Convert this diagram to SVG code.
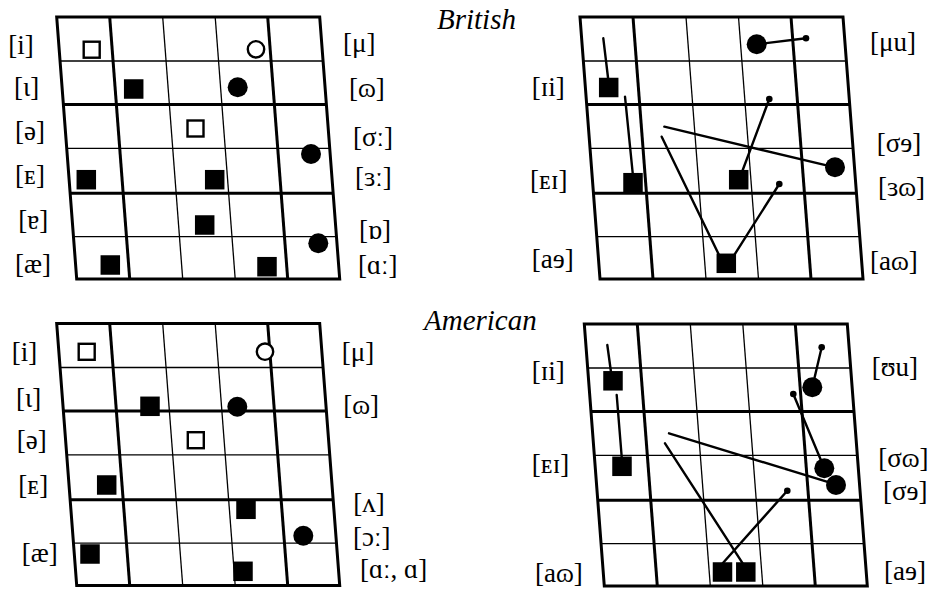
<svg xmlns="http://www.w3.org/2000/svg" width="933" height="592" viewBox="0 0 933 592">
  <style>
    .lbl { font-family: "Liberation Serif", "DejaVu Serif", serif; font-size: 27px; fill: #000; }
    .ttl { font-family: "Liberation Serif", "DejaVu Serif", serif; font-size: 29px; font-style: italic; fill: #000; }
    .thick { stroke: #000; stroke-width: 3; fill: none; }
    .thin { stroke: #000; stroke-width: 1.3; fill: none; }
    .sq { fill: #000; }
    .osq { fill: #fff; stroke: #000; stroke-width: 2.4; }
    .dot { fill: #000; }
    .ocirc { fill: #fff; stroke: #000; stroke-width: 2.4; }
    .trk { stroke: #000; stroke-width: 2.4; fill: none; stroke-linecap: round; }
  </style>
  <defs>
    <!-- skewed 5 x 6 vowel chart grid -->
    <g id="grid">
      <line class="thin" x1="3.4" y1="44" x2="266.4" y2="44"/>
      <line class="thick" x1="6.7" y1="87.5" x2="269.7" y2="87.5"/>
      <line class="thin" x1="10" y1="131.3" x2="273" y2="131.3"/>
      <line class="thick" x1="13.5" y1="176.3" x2="276.5" y2="176.3"/>
      <line class="thin" x1="16.8" y1="219.7" x2="279.8" y2="219.7"/>
      <line class="thick" x1="53" y1="0" x2="73" y2="262"/>
      <line class="thin" x1="106" y1="0" x2="126" y2="262"/>
      <line class="thin" x1="158.5" y1="0" x2="178.5" y2="262"/>
      <line class="thick" x1="211" y1="0" x2="231" y2="262"/>
      <polygon class="thick" points="0,0 263,0 283,262 20,262"/>
    </g>
    <rect id="fsq" class="sq" x="-9.75" y="-9.75" width="19.5" height="19.5"/>
    <rect id="osq" class="osq" x="-8" y="-8" width="16" height="16"/>
  </defs>

  <rect width="933" height="592" fill="#fff"/>

  <text class="ttl" x="437" y="29">British</text>
  <text class="ttl" x="424" y="330">American</text>

  <!-- British monophthongs -->
  <g id="british-mono">
    <use href="#grid" x="56.7" y="17"/>
    <use href="#osq" x="91.7" y="49.7"/>
    <circle class="ocirc" cx="256" cy="49.3" r="8.2"/>
    <use href="#fsq" x="133.7" y="89"/>
    <circle class="dot" cx="237.7" cy="87.3" r="10"/>
    <use href="#osq" x="195.5" y="128.5"/>
    <circle class="dot" cx="311" cy="154" r="10"/>
    <use href="#fsq" x="86.3" y="179.7"/>
    <use href="#fsq" x="214.7" y="179.7"/>
    <use href="#fsq" x="204.7" y="225"/>
    <circle class="dot" cx="318.3" cy="243.3" r="10"/>
    <use href="#fsq" x="110.3" y="265"/>
    <use href="#fsq" x="267" y="266.7"/>
    <text class="lbl" x="8.3" y="54">[i]</text>
    <text class="lbl" x="14" y="95.5">[ι]</text>
    <text class="lbl" x="15" y="139.5">[ə]</text>
    <text class="lbl" x="15" y="183.5">[ᴇ]</text>
    <text class="lbl" x="18.3" y="228.5">[ɐ]</text>
    <text class="lbl" x="15" y="272.5">[æ]</text>
    <text class="lbl" x="343" y="52">[μ]</text>
    <text class="lbl" x="349" y="97">[ɷ]</text>
    <text class="lbl" x="353" y="145.5">[σː]</text>
    <text class="lbl" x="355" y="185.5">[ɜː]</text>
    <text class="lbl" x="359" y="238.5">[ɒ]</text>
    <text class="lbl" x="358" y="273.5">[ɑː]</text>
  </g>

  <!-- British diphthongs -->
  <g id="british-diph">
    <use href="#grid" x="580" y="17"/>
    <g id="british-diph-connectors">
      <line class="trk" x1="603.3" y1="38.3" x2="608.3" y2="80"/>
      <line class="trk" x1="625" y1="96.7" x2="632.7" y2="173"/>
      <line class="trk" x1="756.7" y1="44.3" x2="806" y2="38.3"/>
      <line class="trk" x1="769.3" y1="99" x2="742" y2="172"/>
      <line class="trk" x1="664.3" y1="126.7" x2="835" y2="167.3"/>
      <line class="trk" x1="661.7" y1="136.7" x2="720" y2="257"/>
      <line class="trk" x1="733" y1="257" x2="779.3" y2="184"/>
    </g>
    <use href="#fsq" x="608.7" y="87.5"/>
    <use href="#fsq" x="633" y="182.7"/>
    <circle class="dot" cx="756.7" cy="44.3" r="10"/>
    <circle class="dot" cx="806" cy="38.3" r="3.3"/>
    <circle class="dot" cx="769.3" cy="99" r="3.3"/>
    <use href="#fsq" x="738.7" y="179.7"/>
    <circle class="dot" cx="835" cy="167.3" r="10"/>
    <circle class="dot" cx="779.3" cy="184" r="3.3"/>
    <use href="#fsq" x="726.3" y="263.3"/>
    <text class="lbl" x="870" y="50.5">[μu]</text>
    <text class="lbl" x="531.7" y="95.5">[ɪi]</text>
    <text class="lbl" x="530" y="189">[ᴇɪ]</text>
    <text class="lbl" x="531.7" y="268">[aɘ]</text>
    <text class="lbl" x="876.7" y="152">[σɘ]</text>
    <text class="lbl" x="878" y="195.5">[ɜɷ]</text>
    <text class="lbl" x="870" y="270">[aɷ]</text>
  </g>

  <!-- American monophthongs -->
  <g id="american-mono">
    <use href="#grid" x="56.7" y="323.5"/>
    <use href="#osq" x="86.7" y="351.8"/>
    <circle class="ocirc" cx="265" cy="351.7" r="8.2"/>
    <use href="#fsq" x="150" y="406.3"/>
    <circle class="dot" cx="237.3" cy="406.7" r="10"/>
    <use href="#osq" x="195.8" y="440.2"/>
    <use href="#fsq" x="106.7" y="485"/>
    <use href="#fsq" x="246" y="509.3"/>
    <circle class="dot" cx="303.3" cy="535.7" r="10"/>
    <use href="#fsq" x="90" y="554"/>
    <use href="#fsq" x="243" y="571.3"/>
    <text class="lbl" x="11.7" y="360.5">[i]</text>
    <text class="lbl" x="16" y="407">[ι]</text>
    <text class="lbl" x="16.7" y="448.5">[ə]</text>
    <text class="lbl" x="18.3" y="493.5">[ᴇ]</text>
    <text class="lbl" x="21.7" y="562">[æ]</text>
    <text class="lbl" x="341.7" y="360.5">[μ]</text>
    <text class="lbl" x="343.3" y="413.5">[ɷ]</text>
    <text class="lbl" x="353.3" y="512">[ʌ]</text>
    <text class="lbl" x="353" y="546">[ɔː]</text>
    <text class="lbl" x="360" y="578">[ɑː, ɑ]</text>
  </g>

  <!-- American diphthongs -->
  <g id="american-diph">
    <use href="#grid" x="584.3" y="324"/>
    <g id="american-diph-connectors">
      <line class="trk" x1="607.3" y1="345" x2="611" y2="372"/>
      <line class="trk" x1="616.7" y1="395" x2="621.7" y2="457"/>
      <line class="trk" x1="821.7" y1="347.3" x2="812.3" y2="387.3"/>
      <line class="trk" x1="793.3" y1="394" x2="824.3" y2="468.3"/>
      <line class="trk" x1="669" y1="433.3" x2="830" y2="482.7"/>
      <line class="trk" x1="665" y1="443.3" x2="742.7" y2="563.3"/>
      <line class="trk" x1="787.3" y1="490.7" x2="722.7" y2="563.3"/>
    </g>
    <use href="#fsq" x="613" y="380.8"/>
    <use href="#fsq" x="622" y="466.3"/>
    <circle class="dot" cx="821.7" cy="347.3" r="3.3"/>
    <circle class="dot" cx="812.3" cy="387.3" r="10"/>
    <circle class="dot" cx="793.3" cy="394" r="3.3"/>
    <circle class="dot" cx="824.3" cy="468.3" r="10"/>
    <circle class="dot" cx="836" cy="485" r="10"/>
    <circle class="dot" cx="787.3" cy="490.7" r="3.3"/>
    <use href="#fsq" x="722.5" y="572"/>
    <use href="#fsq" x="745.8" y="572"/>
    <text class="lbl" x="531.7" y="380">[ɪi]</text>
    <text class="lbl" x="531.7" y="473">[ᴇɪ]</text>
    <text class="lbl" x="535" y="582">[aɷ]</text>
    <text class="lbl" x="871.7" y="376">[ʊu]</text>
    <text class="lbl" x="878.3" y="467">[σɷ]</text>
    <text class="lbl" x="883" y="500">[σɘ]</text>
    <text class="lbl" x="884" y="580">[aɘ]</text>
  </g>
</svg>
